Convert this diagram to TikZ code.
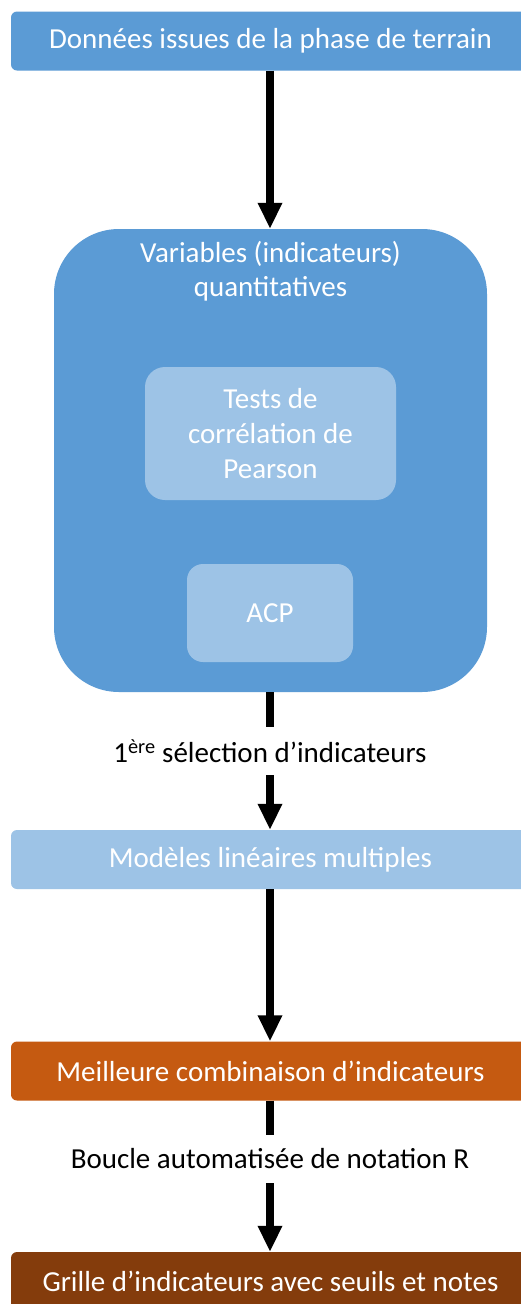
\documentclass[tikz,border=0pt]{standalone}
\usepackage{fontspec}
\setmainfont{Carlito}
\usetikzlibrary{arrows.meta}
\definecolor{blueA}{HTML}{5B9BD5}
\definecolor{blueB}{HTML}{9DC3E6}
\definecolor{orangeA}{HTML}{C55A11}
\definecolor{brownA}{HTML}{843C0C}
\tikzset{
  bar/.style={fill=#1, draw=none, rounded corners=6pt, minimum width=519pt, minimum height=59pt, inner sep=0pt, text=white, font=\fontsize{29}{34}\selectfont},
  inner/.style={fill=blueB, draw=none, inner sep=0pt, text=white, align=center, font=\fontsize{29}{35}\selectfont},
  lbl/.style={inner sep=0pt, minimum height=48pt, text=black, font=\fontsize{29}{34}\selectfont},
  conn/.style={line width=7.5pt, draw=black},
  arr/.style={conn, -{Triangle[length=26pt,width=23pt]}}
}
\begin{document}
\begin{tikzpicture}[x=1pt,y=1pt]
\useasboundingbox (0,0) rectangle (521,-1304);
\fill[white] (0,0) rectangle (521,-1304);
\node[bar=blueA] (data) at (270.5,-41) {Données issues de la phase de terrain};
\node[fill=blueA, draw=none, rounded corners=65pt, minimum width=433pt, minimum height=463pt, inner sep=0pt] (vars) at (270.5,-460.5) {};
\node[text=white, align=center, inner sep=0pt, font=\fontsize{29}{34}\selectfont] (title) at (270.5,-271) {Variables (indicateurs)\\quantitatives};
\node[inner, rounded corners=20pt, minimum width=251pt, minimum height=133pt] (pearson) at (270.5,-433.5) {Tests de\\corrélation de\\Pearson};
\node[inner, rounded corners=16pt, minimum width=166pt, minimum height=98pt] (acp) at (270,-613) {ACP};
\node[lbl] (sel) at (270,-751) {1\textsuperscript{ère} sélection d’indicateurs};
\node[bar=blueB] (mlm) at (270.5,-859.5) {Modèles linéaires multiples};
\node[bar=orangeA] (best) at (270.5,-1071) {Meilleure combinaison d’indicateurs};
\node[lbl] (loop) at (270,-1159) {Boucle automatisée de notation R};
\node[bar=brownA] (grid) at (270.5,-1281.5) {Grille d’indicateurs avec seuils et notes};
\draw[arr] (data.south -| 270,0) -- (vars.north -| 270,0);
\draw[conn] (vars.south -| 270,0) -- (sel.north);
\draw[arr] (sel.south) -- (mlm.north -| 270,0);
\draw[arr] (mlm.south -| 270,0) -- (best.north -| 270,0);
\draw[conn] (best.south -| 270,0) -- (loop.north);
\draw[arr] (loop.south) -- (grid.north -| 270,0);
\end{tikzpicture}
\end{document}
